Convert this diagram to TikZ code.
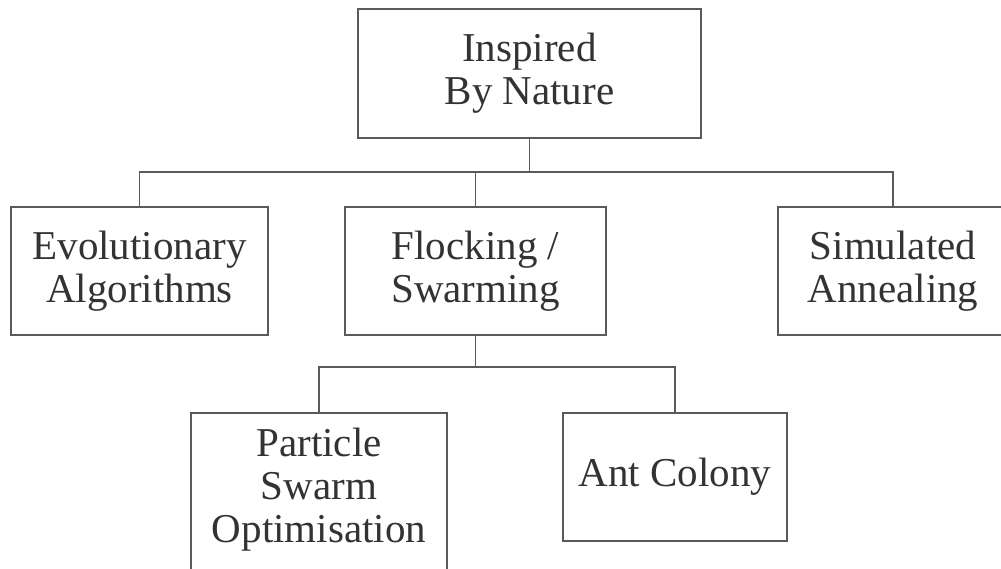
\documentclass[tikz,border=0pt]{standalone}
\usepackage{fontspec}
\setmainfont{Liberation Serif}
\usetikzlibrary{fit}
\definecolor{txtc}{HTML}{333333}
\definecolor{linec}{HTML}{5A5A5A}
\tikzset{
  box/.style={draw=linec, line width=1.1pt, rectangle, inner sep=0pt, align=center,
    text=txtc, font=\fontsize{41}{43}\selectfont},
  txtonly/.style={inner sep=0pt, align=center, text=txtc, font=\fontsize{41}{43}\selectfont},
  conn/.style={draw=linec, line width=1.1pt},
}
\begin{document}
\begin{tikzpicture}[x=1pt,y=-1pt]
\useasboundingbox (0,0) rectangle (1001,568);
\clip (0,0) rectangle (1001,568);
\fill[white] (0,0) rectangle (1001,568);
\node[box, minimum width=343pt, minimum height=129pt] (top) at (529.5,73.5) {Inspired\\By Nature};
\node[box, minimum width=257pt, minimum height=128pt] (evo) at (139.5,271) {Evolutionary\\Algorithms};
\node[box, minimum width=261pt, minimum height=128pt] (flock) at (475.5,271) {Flocking /\\Swarming};
\node[box, minimum width=230pt, minimum height=128pt] (sim) at (893,271) {Simulated\\Annealing};
\node[box, minimum width=224pt, minimum height=128pt] (ant) at (675,477) {Ant Colony};
\node[box, fit={(191,413) (447,580)}] (psobox) {};
\node[txtonly] (pso) at (319,490) {Particle\\Swarm\\Optimisation};
\coordinate (b1) at (0,172);
\coordinate (b2) at (0,367);
\draw[conn] (top.south) -- (top.south |- b1);
\draw[conn] (evo.north) -- (evo.north |- b1) -- (sim.north |- b1) -- (sim.north);
\draw[conn] (flock.north) -- (flock.north |- b1);
\draw[conn] (flock.south) -- (flock.south |- b2);
\draw[conn] (psobox.north) -- (psobox.north |- b2) -- (ant.north |- b2) -- (ant.north);
\end{tikzpicture}
\end{document}
